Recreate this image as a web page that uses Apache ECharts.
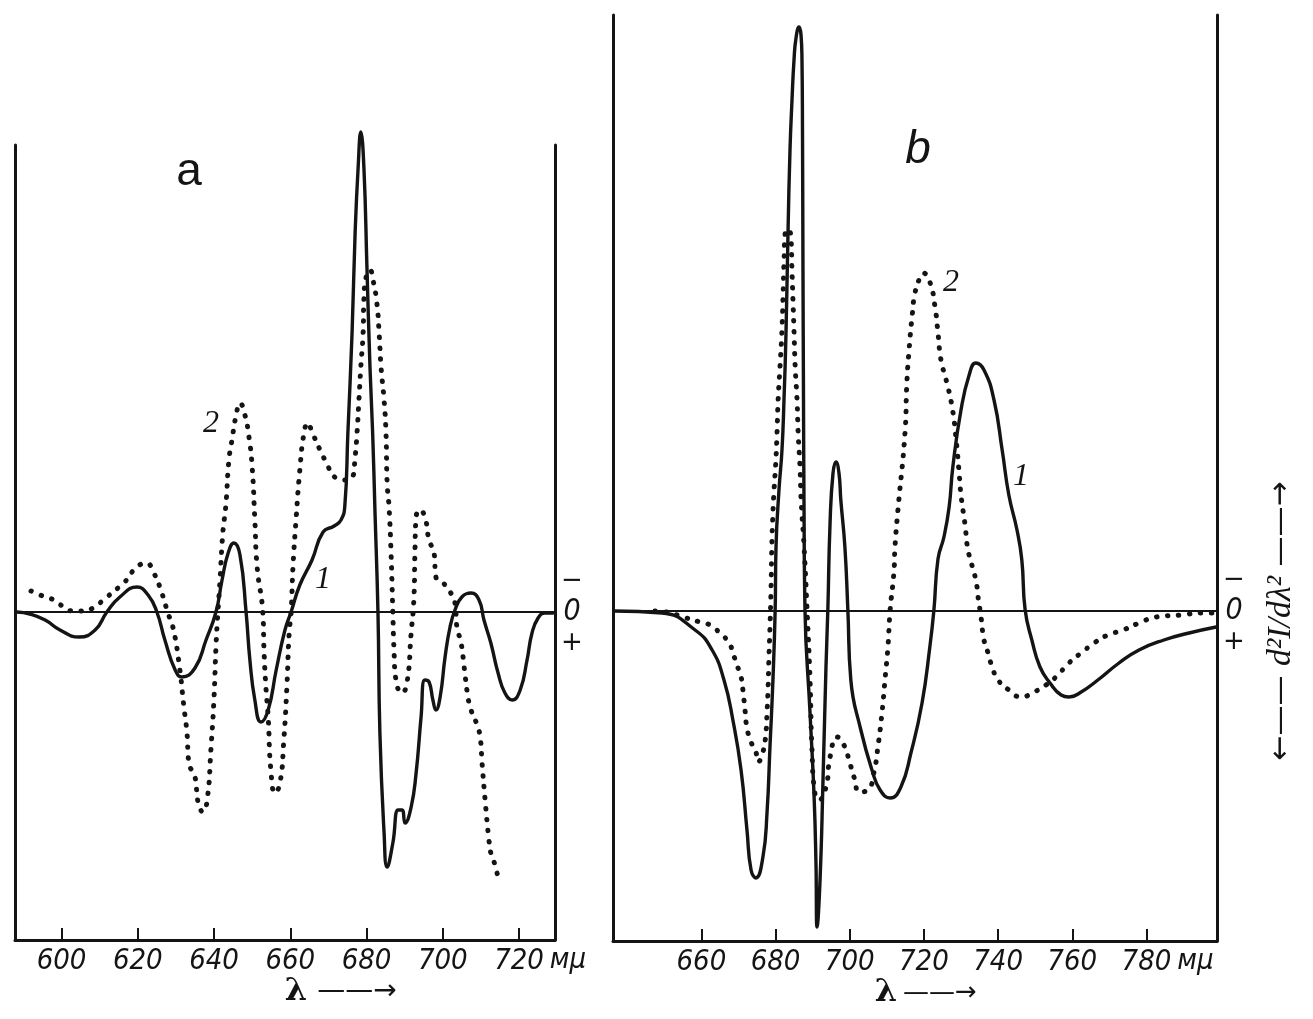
<!DOCTYPE html>
<html>
<head>
<meta charset="utf-8">
<title>d2I/dλ2 spectra</title>
<script src="https://cdn.jsdelivr.net/npm/echarts@6/dist/echarts.min.js"></script>
<style>
  html, body { margin: 0; padding: 0; background: #fff; }
  #chart { width: 1313px; height: 1019px; }
</style>
</head>
<body>
<div id="chart"></div>
<script>
// tick labels (wavelength, mμ)
var ticksA = [600, 620, 640, 660, 680, 700, 720];
var ticksB = [660, 680, 700, 720, 740, 760, 780];

// panel a, curve 1 (solid)
var a1Lam = [588.3, 591.7, 595.7, 599.6, 604.6, 608.8, 611.9, 615.3, 619.8, 622.7, 625.0, 627.1, 629.8, 631.6, 635.0, 637.9,
  640.5, 642.1, 643.7, 645.2, 646.8, 648.4, 649.4, 650.7, 652.3, 654.2, 656.3, 658.6, 660.2, 662.5, 665.7, 668.6, 671.5,
  673.3, 674.3, 675.1, 676.2, 677.0, 677.8, 678.5, 679.3, 680.1, 680.9, 681.6, 682.2, 683.0, 683.5, 684.6, 685.4, 686.9,
  688.3, 689.3, 690.1, 691.7, 693.0, 694.3, 695.3, 696.4, 697.4, 698.2, 699.3, 700.6, 701.9, 703.2, 705.0, 707.4, 709.5,
  710.8, 712.6, 714.5, 716.3, 718.2, 720.3, 722.1, 723.4, 725.0, 726.8, 728.9];
var a1Val = [0, -0.2, -0.8, -1.8, -2.5, -1.8, 0, 1.5, 2.5, 1.7, 0, -2.8, -5.8, -6.5, -5.6, -2.8,
  0, 3.2, 5.9, 6.9, 5.7, 0, -4.8, -8.8, -11.0, -9.8, -5.8, -1.8, 0, 2.7, 5.2, 8.0, 8.6,
  9.2, 10.6, 17.9, 27.9, 37.9, 44.5, 48.0, 44.5, 34.5, 24.5, 17.9, 10.2, -0.1, -12.1, -22.1, -25.5, -23.1,
  -19.8, -19.8, -21.1, -19.5, -16.1, -10.5, -6.8, -7.0, -8.8, -9.8, -8.5, -4.5, -1.5, 0.2, 1.5, 1.9, 1.2,
  -0.8, -3.1, -6.1, -8.1, -8.8, -7.8, -4.8, -2.1, -0.6, -0.1, -0.1];

// panel a, curve 2 (dotted)
var a2Lam = [592.0, 595.7, 598.0, 600.6, 603.0, 605.9, 608.2, 611.9, 614.8, 616.6, 619.5, 622.2, 624.2, 626.3, 627.9,
  629.2, 630.8, 632.1, 632.9, 633.4, 635.0, 635.8, 637.1, 638.2, 639.2, 640.0, 640.5, 641.0, 641.6, 642.3, 643.1, 643.9,
  644.7, 645.8, 646.8, 648.1, 649.2, 650.0, 650.7, 651.3, 652.8, 653.1, 653.6, 654.2, 654.9, 656.0, 657.3, 658.3, 659.1,
  659.7, 660.2, 660.7, 661.5, 662.5, 663.6, 664.6, 665.7, 667.8, 669.1, 672.0, 674.3, 676.2, 677.0, 677.5, 678.0, 678.5,
  679.1, 679.3, 679.9, 680.9, 681.7, 682.7, 683.3, 683.8, 684.6, 685.1, 685.4, 685.9, 686.4, 686.9, 687.2, 687.7, 689.3,
  690.6, 691.7, 692.4, 692.7, 693.0, 694.0, 695.3, 696.4, 697.7, 698.2, 700.1, 701.6, 703.2, 703.7, 704.8, 705.6, 706.6,
  707.4, 709.0, 709.8, 710.3, 711.1, 712.1, 712.6, 713.7, 714.5];
var a2Val = [2.1, 1.5, 1.2, 0.5, 0.1, 0.1, 0.4, 1.5, 2.4, 3.0, 4.4, 4.9, 3.9, 1.9, -0.1,
  -1.5, -5.1, -9.5, -12.1, -15.1, -16.5, -19.0, -20.0, -18.8, -13.6, -8.5, -3.5, -0.1, 3.4, 7.9, 10.7, 15.2,
  17.2, 19.7, 20.9, 19.7, 17.4, 14.5, 9.2, 4.5, -0.1, -3.8, -7.5, -10.5, -15.8, -18.1, -17.1, -12.8, -7.5,
  -2.1, -0.1, 4.5, 9.2, 14.2, 17.9, 18.9, 18.0, 16.2, 15.2, 13.4, 13.2, 13.4, 15.5, 17.9, 21.2, 24.5,
  27.9, 31.2, 33.5, 34.2, 33.2, 30.9, 27.9, 24.5, 21.2, 17.9, 12.9, 10.5, 6.2, -0.1, -3.8, -6.8, -8.1,
  -7.1, -2.1, 1.2, 6.2, 9.5, 10.2, 9.5, 7.2, 5.9, 3.5, 2.9, 2.2, 0.9, -1.5, -3.1, -5.5, -8.5,
  -9.8, -11.3, -12.5, -15.1, -18.8, -22.8, -24.1, -25.3, -26.6];

// panel b, curve 1 (solid)
var b1Lam = [636.4, 649.4, 658.3, 662.9, 666.1, 668.5, 670.7, 672.3, 673.4, 674.7, 676.6, 677.7, 678.5, 679.3, 679.9,
  680.13, 680.93, 681.74, 682.28, 682.82, 683.36, 683.90, 684.44, 684.98, 685.52, 686.33, 686.87, 687.13, 687.27, 687.40,
  687.54, 687.67, 687.94, 689.3, 690.4, 690.9, 691.2, 692.0, 692.8, 693.6, 694.1, 694.7, 695.5, 696.3, 697.1, 697.6,
  698.7, 699.5, 700.3, 703.0, 706.0, 708.2, 710.9, 713.8, 716.5, 719.5, 721.6, 722.7, 723.8, 725.4, 726.8, 727.8, 730.0,
  732.2, 734.0, 736.2, 738.9, 741.1, 742.9, 745.1, 746.4, 747.3, 749.1, 751.3, 754.0, 757.0, 759.1, 762.4, 766.9, 772.6,
  778.0, 784.7, 791.5, 798.8];
var b1Val = [0, -0.2, -1.9, -3.9, -6.9, -10.9, -15.9, -21.9, -25.9, -26.7, -24.6, -20.2, -13.6, -6.9, 0.1,
  6.4, 12.1, 16.1, 21.1, 27.8, 37.8, 46.1, 51.1, 55.1, 57.3, 58.4, 57.6, 55.1, 47.8, 34.1,
  21.1, 11.1, 0.1, -10.2, -18.6, -25.2, -31.6, -26.9, -16.9, -5.6, 0.1, 8.8, 13.8, 14.9, 13.8, 11.1,
  6.4, 0.1, -6.9, -11.9, -15.9, -17.9, -18.7, -17.6, -14.2, -9.2, -3.6, 0.1, 5.2, 7.4, 10.4, 14.4, 20.1,
  23.6, 24.8, 24.1, 21.1, 16.1, 11.6, 8.1, 5.1, 0.1, -2.9, -5.6, -7.2, -8.4, -8.6, -8.1, -6.9, -5.2,
  -3.9, -2.9, -2.2, -1.6];

// panel b, curve 2 (dotted)
var b2Lam = [647.5, 650.5, 655.1, 659.6, 662.3, 665.0, 667.5, 668.5, 669.6, 670.7, 671.2, 671.8, 672.3, 673.4, 674.7,
  675.3, 676.6, 677.4, 677.7, 678.0, 678.2, 678.5, 678.8, 679.0, 679.3, 679.6, 680.1, 680.4, 680.7, 681.2, 681.7, 682.0,
  682.3, 682.6, 683.4, 684.2, 684.4, 684.7, 685.0, 685.3, 685.8, 686.1, 686.6, 686.9, 687.7, 688.5, 689.3, 689.8, 690.6,
  691.7, 693.6, 694.7, 696.6, 698.7, 699.8, 701.4, 702.5, 704.9, 706.5, 707.6, 708.7, 709.5, 710.3, 710.9, 711.9, 712.2,
  713.0, 714.9, 715.4, 716.0, 716.8, 717.6, 719.0, 719.8, 721.6, 723.0, 723.8, 724.6, 726.0, 727.6, 728.7, 729.5, 730.0,
  731.1, 731.9, 734.0, 734.6, 735.4, 736.2, 737.3, 738.4, 740.0, 742.9, 746.2, 749.7, 752.9, 755.6, 759.1, 762.4, 765.9,
  769.6, 773.7, 778.0, 782.6, 789.3, 795.0, 799.0];
var b2Val = [0, -0.1, -0.6, -1.1, -1.4, -2.2, -3.2, -4.2, -5.4, -6.6, -7.9, -10.0, -11.7, -13.1, -14.1,
  -15.1, -14.1, -12.2, -10.2, -7.6, -4.9, -1.6, 2.4, 6.4, 9.8, 12.1, 15.1, 17.8, 21.1, 24.4, 27.8, 31.1,
  35.1, 37.8, 38.2, 37.1, 34.4, 31.1, 27.8, 24.4, 21.1, 17.8, 14.4, 11.1, 6.4, 0.1, -6.9, -13.6, -18.2,
  -18.9, -17.6, -14.6, -12.6, -13.6, -14.9, -16.9, -18.1, -17.9, -16.2, -13.6, -10.2, -6.9, -3.6, 0.1, 3.8, 6.4,
  10.1, 17.8, 22.8, 26.1, 29.4, 31.8, 33.4, 33.8, 32.9, 30.4, 27.8, 25.1, 23.1, 20.4, 17.1, 13.8, 11.6,
  8.6, 6.1, 3.1, 1.4, -0.6, -2.9, -4.2, -5.6, -6.9, -7.9, -8.6, -8.1, -7.4, -6.6, -5.2, -4.2, -3.2,
  -2.4, -1.9, -1.2, -0.6, -0.4, -0.2, -0.2];

// curve number tags [λ, value]
var a1Tag = [668.6, 3.2];
var a2Tag = [639.2, 18.8];
var b1Tag = [746.2, 13.4];
var b2Tag = [727.3, 32.8];

var ink = '#141414';
var tickFont = "'Liberation Sans Narrow', 'DejaVu Sans Condensed', sans-serif";
var serifFont = "'Liberation Serif', 'DejaVu Serif', serif";

window.onload = function() {
  drawChart();
};

function pairs(lam, val) {
  var out = [];
  for (var i = 0; i < lam.length; i++) {
    out.push([lam[i], val[i]]);
  }
  return out;
}

function bottomAxis(gi, min, max, ticks, gap) {
  return {
    type: 'value', gridIndex: gi, min: min, max: max, position: 'bottom',
    name: 'мμ', nameLocation: 'end', nameGap: gap,
    nameTextStyle: {
      color: ink, fontFamily: tickFont, fontStyle: 'italic', fontSize: 29,
      verticalAlign: 'top', padding: [6, 0, 0, 0]
    },
    axisLine: {show: true, onZero: false, lineStyle: {color: ink, width: 3}},
    axisTick: {show: true, inside: true, length: 12, customValues: ticks, lineStyle: {color: ink, width: 2}},
    axisLabel: {
      show: true, customValues: ticks, margin: 7, color: ink,
      fontFamily: tickFont, fontStyle: 'italic', fontSize: 29
    },
    splitLine: {show: false}
  };
}

function sideAxis(gi, min, max, pos) {
  var ax = {
    type: 'value', gridIndex: gi, min: min, max: max, position: pos,
    axisLine: {show: true, onZero: false, lineStyle: {color: ink, width: 3}},
    axisTick: {show: false},
    splitLine: {show: false},
    axisLabel: {show: false}
  };
  if (pos === 'right') {
    // the "- 0 +" marks at the zero level
    ax.axisLabel = {
      show: true, customValues: [0], margin: 17, align: 'center',
      formatter: function() { return '{s|−}\n{z|0}\n{s|+}'; },
      rich: {
        s: {fontSize: 26, lineHeight: 31, color: ink, fontFamily: 'DejaVu Sans', align: 'center'},
        z: {fontSize: 30, lineHeight: 31, color: ink, fontFamily: tickFont, fontStyle: 'italic', align: 'center'}
      }
    };
  }
  return ax;
}

function tagPoint(txt, coord) {
  return {
    silent: true, symbol: 'circle', symbolSize: 1,
    itemStyle: {color: 'rgba(0,0,0,0)'},
    label: {
      show: true, position: 'inside', formatter: txt, color: ink,
      fontFamily: serifFont, fontStyle: 'italic', fontSize: 32
    },
    data: [{coord: coord}]
  };
}

function zeroLine() {
  return {
    silent: true, symbol: 'none', label: {show: false},
    lineStyle: {color: ink, width: 2, type: 'solid'},
    data: [{yAxis: 0}]
  };
}

function curve(gi, lam, val, dotted, tag, txt) {
  var s = {
    type: 'line', xAxisIndex: gi, yAxisIndex: gi * 2,
    data: pairs(lam, val), symbol: 'none', showSymbol: false,
    smooth: 0.5, clip: false, silent: true,
    lineStyle: dotted
      ? {color: ink, width: 5, type: [0.5, 10.5], cap: 'round'}
      : {color: ink, width: 3.4, cap: 'round', join: 'round'},
    markPoint: tagPoint(txt, tag)
  };
  if (!dotted) {
    s.markLine = zeroLine();
  }
  return s;
}

function textEl(x, y, txt, font, rot, rich) {
  return {
    type: 'text', x: x, y: y, rotation: rot || 0, silent: true,
    style: {
      text: txt, font: font, fill: ink, rich: rich,
      align: 'center', verticalAlign: 'middle',
      textAlign: 'center', textVerticalAlign: 'middle'
    }
  };
}

function drawChart() {
  var chart = echarts.init(document.getElementById('chart'), null, {renderer: 'canvas'});
  var nameRich = {
    r: {font: "30px 'DejaVu Sans', sans-serif", fill: ink},
    t: {font: "italic 34px 'Liberation Serif', serif", fill: ink}
  };
  var option = {
    animation: false,
    backgroundColor: '#ffffff',
    grid: [
      {left: 15, right: 758, top: 145, bottom: 79, outerBoundsMode: 'none'},
      {left: 613, right: 96, top: 15, bottom: 78, outerBoundsMode: 'none'}
    ],
    xAxis: [
      bottomAxis(0, 587.79, 729.43, ticksA, -15),
      bottomAxis(1, 636.18, 799.02, ticksB, -41)
    ],
    yAxis: [
      sideAxis(0, -32.8, 46.7, 'left'),
      sideAxis(0, -32.8, 46.7, 'right'),
      sideAxis(1, -33.0, 59.6, 'left'),
      sideAxis(1, -33.0, 59.6, 'right')
    ],
    series: [
      curve(0, a1Lam, a1Val, false, a1Tag, '1'),
      curve(0, a2Lam, a2Val, true, a2Tag, '2'),
      curve(1, b1Lam, b1Val, false, b1Tag, '1'),
      curve(1, b2Lam, b2Val, true, b2Tag, '2')
    ],
    graphic: [
      textEl(189, 172, 'a', "46px 'Liberation Sans', sans-serif"),
      textEl(918, 150, 'b', "italic 46px 'Liberation Sans', sans-serif"),
      textEl(296, 992, 'λ', "bold 32px 'DejaVu Serif', serif"),
      textEl(357, 992, '——→', "28px 'DejaVu Sans', sans-serif"),
      textEl(886, 993, 'λ', "bold 32px 'DejaVu Serif', serif"),
      textEl(940, 993, '——→', "26px 'DejaVu Sans', sans-serif"),
      textEl(1281, 621, '{r|←——} {t|d²I/dλ²} {r|——→}', "30px 'DejaVu Sans', sans-serif", Math.PI / 2, nameRich)
    ]
  };
  chart.setOption(option);
}
</script>
</body>
</html>
